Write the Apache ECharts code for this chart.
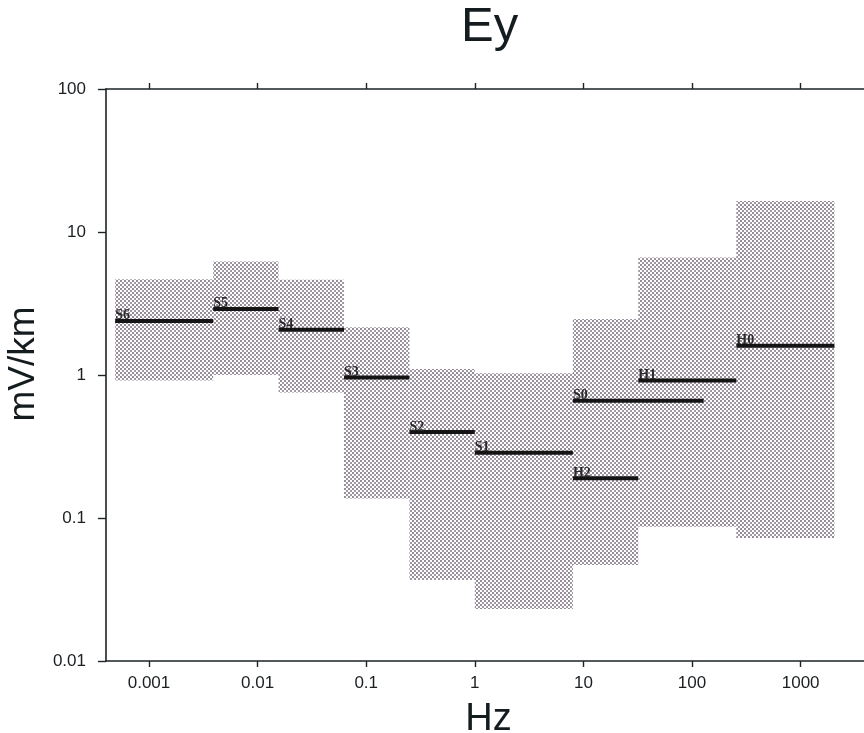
<!DOCTYPE html>
<html>
<head>
<meta charset="utf-8">
<title>Ey</title>
<script src="https://cdn.jsdelivr.net/npm/echarts@6/dist/echarts.min.js"></script>
<style>
  html, body { margin: 0; padding: 0; background: #ffffff; }
  #chart { width: 864px; height: 733px; }
</style>
</head>
<body>
<div id="chart"></div>
<script>
// Frequency bands (Hz) and the typical electric field level in each (mV/km)
const bandNames = ['S6', 'S5', 'S4', 'S3', 'S2', 'S1', 'S0', 'H2', 'H1', 'H0'];
const bandFrom  = [0.000488, 0.0039, 0.0156, 0.0625, 0.25, 1, 8, 8, 32, 256];
const bandTo    = [0.0039, 0.0156, 0.0625, 0.25, 1, 8, 128, 32, 256, 2048];
const bandLevel = [2.39, 2.90, 2.07, 0.96, 0.40, 0.286, 0.66, 0.19, 0.914, 1.60];

// Spread of observed levels per frequency interval (mV/km)
const rangeFrom = [0.000488, 0.0039, 0.0156, 0.0625, 0.25, 1, 8, 32, 256];
const rangeTo   = [0.0039, 0.0156, 0.0625, 0.25, 1, 8, 32, 256, 2048];
const rangeLow  = [0.914, 1.0, 0.753, 0.137, 0.0368, 0.0231, 0.0469, 0.0869, 0.0724];
const rangeHigh = [4.68, 6.22, 4.63, 2.16, 1.10, 1.03, 2.46, 6.63, 16.5];

// Axis ticks
const hzTicks = [0.001, 0.01, 0.1, 1, 10, 100, 1000];
const mvTicks = [0.01, 0.1, 1, 10, 100];

// Halftone dot fill for the ranges
function makeDotPattern() {
  const c = document.createElement('canvas');
  c.width = 4; c.height = 4;
  const g = c.getContext('2d');
  g.fillStyle = '#ffffff';
  g.fillRect(0, 0, 4, 4);
  g.fillStyle = 'rgb(150,140,152)';
  g.fillRect(0, 0, 2, 2);
  g.fillStyle = 'rgb(158,150,164)';
  g.fillRect(2, 2, 2, 2);
  return c;
}
const dotFill = { image: makeDotPattern(), repeat: 'repeat' };

const rangeData = rangeFrom.map((f, i) => [f, rangeTo[i], rangeLow[i], rangeHigh[i]]);
const bandData = bandNames.map((n, i) => [bandFrom[i], bandTo[i], bandLevel[i], n]);

const axisColor = '#1c2426';
const fontSans = '"Liberation Sans", Arial, sans-serif';

const chart = echarts.init(document.getElementById('chart'), null, { renderer: 'canvas' });

chart.setOption({
  animation: false,
  backgroundColor: '#ffffff',
  title: {
    text: 'Ey',
    left: 456,
    top: -2,
    textStyle: { fontFamily: fontSans, fontSize: 49, fontWeight: 'normal', color: '#141c1f' }
  },
  grid: {
    left: 106, top: 89, width: 765, height: 572,
    show: false, containLabel: false, outerBoundsMode: 'none'
  },
  xAxis: [
    {
      type: 'log',
      logBase: 10,
      min: 0.000402,
      max: 4446,
      name: 'Hz',
      nameLocation: 'middle',
      nameGap: 40,
      nameTextStyle: { fontFamily: fontSans, fontSize: 38, color: '#141c1f' },
      axisLine: { show: true, onZero: false, lineStyle: { color: axisColor, width: 1.6 } },
      axisTick: { show: true, inside: false, length: 6, customValues: hzTicks, lineStyle: { color: axisColor, width: 1.4 } },
      axisLabel: {
        show: true, margin: 14, customValues: hzTicks,
        fontFamily: fontSans, fontSize: 17, color: '#1a1f22',
        formatter: v => String(v)
      },
      splitLine: { show: false },
      minorTick: { show: false }
    },
    {
      type: 'log',
      logBase: 10,
      position: 'top',
      min: 0.000402,
      max: 4446,
      axisLine: { show: true, onZero: false, lineStyle: { color: axisColor, width: 1.6 } },
      axisTick: { show: true, inside: false, length: 6, customValues: hzTicks, lineStyle: { color: axisColor, width: 1.4 } },
      axisLabel: { show: false },
      splitLine: { show: false }
    }
  ],
  yAxis: {
    type: 'log',
    logBase: 10,
    min: 0.01,
    max: 100,
    name: 'mV/km',
    nameLocation: 'middle',
    nameGap: 62,
    nameTextStyle: { fontFamily: fontSans, fontSize: 37, color: '#141c1f', padding: [0, 0, 0, 22] },
    axisLine: { show: true, onZero: false, lineStyle: { color: axisColor, width: 1.6 } },
    axisTick: { show: true, inside: false, length: 8, customValues: mvTicks, lineStyle: { color: axisColor, width: 1.4 } },
    axisLabel: {
      show: true, margin: 20, customValues: mvTicks,
      fontFamily: fontSans, fontSize: 17, color: '#1a1f22',
      formatter: v => String(v)
    },
    splitLine: { show: false }
  },
  series: [
    {
      name: 'range',
      type: 'custom',
      xAxisIndex: 0,
      yAxisIndex: 0,
      encode: { x: [0, 1], y: [2, 3] },
      data: rangeData,
      renderItem: function (params, api) {
        const tl = api.coord([api.value(0), api.value(3)]);
        const br = api.coord([api.value(1), api.value(2)]);
        return {
          type: 'rect',
          shape: { x: tl[0], y: tl[1], width: br[0] - tl[0], height: br[1] - tl[1] },
          style: { fill: dotFill, stroke: null }
        };
      },
      z: 1
    },
    {
      name: 'band',
      type: 'custom',
      xAxisIndex: 0,
      yAxisIndex: 0,
      encode: { x: [0, 1], y: 2 },
      data: bandData,
      renderItem: function (params, api) {
        const a = api.coord([api.value(0), api.value(2)]);
        const b = api.coord([api.value(1), api.value(2)]);
        const label = bandNames[params.dataIndex];
        return {
          type: 'group',
          children: [
            {
              type: 'line',
              shape: { x1: a[0], y1: a[1], x2: b[0], y2: b[1] },
              style: { stroke: '#141414', lineWidth: 4, lineCap: 'butt' }
            },
            {
              type: 'text',
              style: {
                text: label,
                x: a[0],
                y: a[1] + 2,
                align: 'left',
                verticalAlign: 'bottom',
                font: 'bold 14px "Liberation Serif", "DejaVu Serif", serif',
                fill: '#2a2a2a'
              }
            }
          ]
        };
      },
      z: 3
    }
  ]
});
</script>
</body>
</html>
